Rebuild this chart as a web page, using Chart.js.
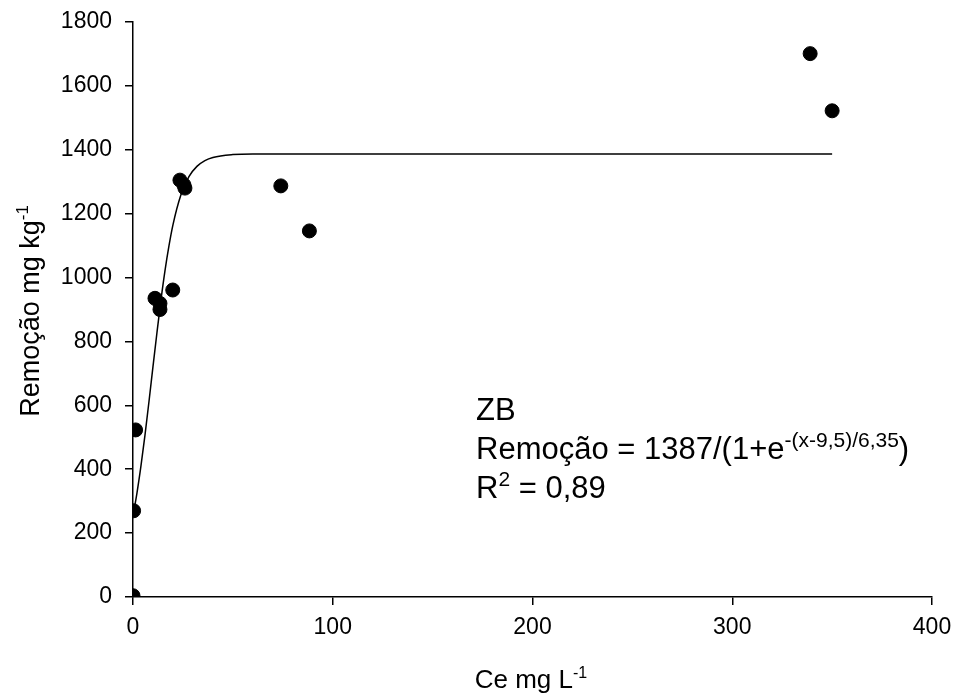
<!DOCTYPE html>
<html lang="pt">
<head>
  <meta charset="UTF-8">
  <title>Remoção ZB</title>
  <script src="https://cdn.jsdelivr.net/npm/chart.js"></script>
  <style>
    body { margin: 0; background: #fff; }
    #wrap { width: 955px; height: 699px; }
  </style>
</head>
<body>
  <div id="wrap"><canvas id="myChart"></canvas></div>

  <script>
    // pontos observados (Ce mg L-1, Remoção mg kg-1)
    var ceObs = [0, 0.3, 1.3, 11, 13.5, 13.5, 19.9, 23.5, 25.5, 26, 74, 88.3, 339, 350];
    var remObs = [4, 270, 523, 935, 919, 900, 961, 1305, 1290, 1280, 1287, 1146, 1701, 1522];

    // curva ajustada
    var ceFit = [0, 2, 4, 6, 8, 10, 12, 14, 16, 18, 20, 24, 28, 32, 36, 40, 50, 60, 350];
    var remFit = [254, 326, 411, 507, 612, 721, 828, 930, 1021, 1099, 1165, 1259, 1316, 1348, 1366, 1376, 1385, 1387, 1387];

    var xTicks = [0, 100, 200, 300, 400];
    var yTicks = [0, 200, 400, 600, 800, 1000, 1200, 1400, 1600, 1800];

    var fonte = '"Liberation Sans", Arial, sans-serif';

    function pares(xs, ys) {
      return xs.map(function (x, i) { return { x: x, y: ys[i] }; });
    }

    // escreve texto com expoente
    function textoSup(ctx, partes, x, y, tam, fator) {
      var cx = x;
      partes.forEach(function (p) {
        if (p.sup) {
          ctx.font = Math.round(tam * fator) + 'px ' + fonte;
          ctx.fillText(p.t, cx, y - tam * 0.4);
        } else {
          ctx.font = tam + 'px ' + fonte;
          ctx.fillText(p.t, cx, y);
        }
        cx += ctx.measureText(p.t).width;
      });
      return cx - x;
    }

    function larguraSup(ctx, partes, tam, fator) {
      var w = 0;
      partes.forEach(function (p) {
        ctx.font = (p.sup ? Math.round(tam * fator) : tam) + 'px ' + fonte;
        w += ctx.measureText(p.t).width;
      });
      return w;
    }

    var textos = {
      id: 'textos',
      afterDraw: function (chart) {
        var ctx = chart.ctx;
        ctx.save();
        ctx.fillStyle = '#000';
        ctx.textBaseline = 'alphabetic';
        ctx.textAlign = 'left';

        // título eixo x
        var tx = [{ t: 'Ce mg L' }, { t: '-1', sup: true }];
        var w = larguraSup(ctx, tx, 26, 0.62);
        textoSup(ctx, tx, 531 - w / 2, 688, 26, 0.62);

        // título eixo y
        var ty = [{ t: 'Remoção mg kg' }, { t: '-1', sup: true }];
        w = larguraSup(ctx, ty, 27, 0.62);
        ctx.save();
        ctx.translate(39, 311);
        ctx.rotate(-Math.PI / 2);
        textoSup(ctx, ty, -w / 2, 0, 27, 0.62);
        ctx.restore();

        // equação
        ctx.font = '31px ' + fonte;
        ctx.fillText('ZB', 476, 420);
        textoSup(ctx, [{ t: 'Remoção = 1387/(1+e' }, { t: '-(x-9,5)/6,35', sup: true }, { t: ')' }], 476, 459, 31, 0.67);
        textoSup(ctx, [{ t: 'R' }, { t: '2', sup: true }, { t: ' = 0,89' }], 476, 498, 31, 0.67);
        ctx.restore();
      }
    };

    var ctx = document.getElementById('myChart').getContext('2d');
    var myChart = new Chart(ctx, {
      type: 'scatter',
      data: {
        datasets: [{
          label: 'Observado',
          data: pares(ceObs, remObs),
          backgroundColor: '#000',
          borderColor: '#000',
          pointRadius: 7,
          pointHoverRadius: 7
        }, {
          label: 'Ajuste',
          type: 'line',
          data: pares(ceFit, remFit),
          borderColor: '#000',
          borderWidth: 1.5,
          pointRadius: 0,
          cubicInterpolationMode: 'monotone',
          fill: false
        }]
      },
      options: {
        responsive: true,
        maintainAspectRatio: false,
        animation: false,
        layout: { padding: { left: 0, top: 22, right: 23, bottom: 0 } },
        plugins: {
          legend: { display: false },
          tooltip: { enabled: false }
        },
        scales: {
          x: {
            type: 'linear',
            min: 0,
            max: 400,
            afterFit: function (s) {
              s.height = 102;
              s.paddingLeft = 0;
              s.paddingRight = 0;
            },
            afterBuildTicks: function (s) { s.ticks = xTicks.map(function (v) { return { value: v }; }); },
            ticks: {
              color: '#000', font: { family: fonte, size: 23 }, padding: 9, maxRotation: 0,
              callback: function (v) { return String(v); }
            },
            grid: { drawOnChartArea: false, drawTicks: true, tickLength: 8, color: '#000', lineWidth: 1.5 },
            border: { color: '#000', width: 1.5 }
          },
          y: {
            type: 'linear',
            min: 0,
            max: 1800,
            afterFit: function (s) {
              s.width = 133;
              s.paddingTop = 0;
              s.paddingBottom = 0;
            },
            afterBuildTicks: function (s) { s.ticks = yTicks.map(function (v) { return { value: v }; }); },
            ticks: {
              color: '#000', font: { family: fonte, size: 23 }, padding: 13,
              callback: function (v) { return String(v); }
            },
            grid: { drawOnChartArea: false, drawTicks: true, tickLength: 8, color: '#000', lineWidth: 1.5 },
            border: { color: '#000', width: 1.5 }
          }
        }
      },
      plugins: [textos]
    });
  </script>
</body>
</html>
